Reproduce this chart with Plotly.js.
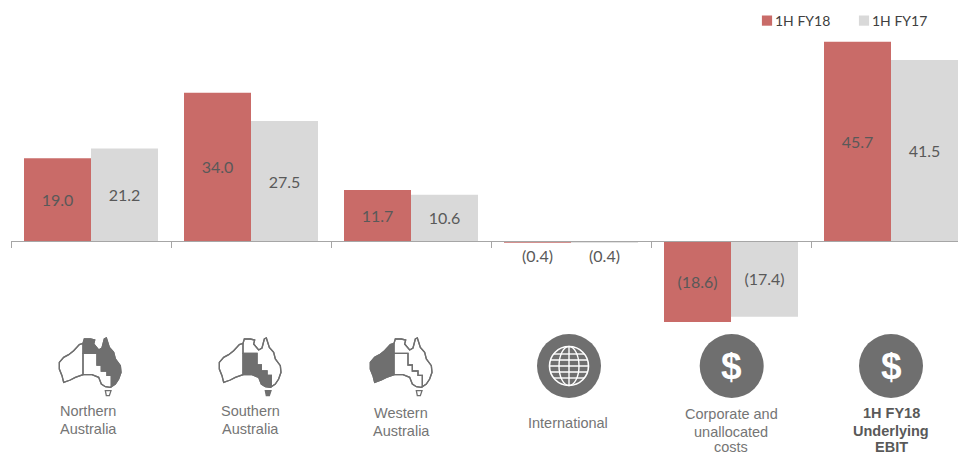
<!DOCTYPE html>
<html><head><meta charset="utf-8">
<script src="https://cdn.plot.ly/plotly-3.0.1.min.js"></script>
<style>html,body{margin:0;padding:0;background:#fff;overflow:hidden}</style>
</head><body><div id="chart" style="width:958px;height:456px"></div>
<script>
const categories = ['Northern Australia','Southern Australia','Western Australia','International','Corporate and unallocated costs','1H FY18 Underlying EBIT'];
const fy18 = [19.0, 34.0, 11.7, -0.4, -18.6, 45.7];
const fy17 = [21.2, 27.5, 10.6, -0.4, -17.4, 41.5];
const labelPositions = ['inside','inside','inside','outside','inside','inside'];
const seriesNames = ['1H FY18','1H FY17'];
const RED = '#C96B68', GREY = '#D9D9D9', ICON = '#6F6F6F';

const W = 958, H = 456, LEFT = 11, ZERO = 241, PX_PER_UNIT = 4.36;
const px = x => (x - LEFT) / (W - LEFT);
const py = y => 1 - y / H;

const labelLines = [['Northern','Australia'],['Southern','Australia'],['Western','Australia'],['International'],['Corporate and','unallocated','costs'],['<b>1H FY18</b>','<b>Underlying</b>','<b>EBIT</b>']];
const labelX = [88, 250, 401, 568, 731, 891];
const labelLineY = [[411,429],[411,429],[413,431],[423],[414,431.5,447],[413,431,447]];

// Australia icon, traced at 3x: local coordinates / 3 = pixels from the icon's corner
const outline = [[22,85],[35,70],[50,62],[65,50],[82,32],[93,28],[97,15],[115,15],[128,18],[125,30],[140,48],[150,42],[157,15],[163,12],[172,40],[185,55],[190,75],[205,95],[207,115],[200,135],[190,150],[175,160],[160,158],[148,150],[140,130],[120,122],[93,122],[70,130],[55,138],[35,145],[30,125],[22,105]];
const tas = [[160,170],[177,170],[172,185],[163,185]];
const north = [[93,28],[97,15],[115,15],[128,18],[125,30],[140,48],[150,42],[157,15],[163,12],[172,40],[185,55],[190,75],[205,95],[207,115],[200,135],[190,150],[178,158],[178,124],[165,124],[165,111],[148,111],[148,93],[135,93],[135,58],[93,58]];
const south = [[93,58],[135,58],[135,93],[148,93],[148,111],[165,111],[165,124],[178,124],[178,158],[175,160],[160,158],[148,150],[140,130],[120,122],[93,122]];
const west = [[22,85],[35,70],[50,62],[65,50],[82,32],[93,28],[93,122],[70,130],[55,138],[35,145],[30,125],[22,105]];
const mapX = [52, 212, 363], mapY = 334;

function path(pts, dx, dy) {
  return 'M' + pts.map(p => px(p[0] / 3 + dx) + ',' + py(p[1] / 3 + dy)).join('L') + 'Z';
}
function pshape(pts, dx, dy, fill) {
  return {type:'path', xref:'paper', yref:'paper', path:path(pts, dx, dy), fillcolor:fill, line:{color:ICON, width:1.3}, layer:'below'};
}
const shapes = [];
[north, south, west].forEach((region, i) => {
  const dx = mapX[i];
  shapes.push(pshape(outline, dx, mapY, '#FFFFFF'));
  shapes.push(pshape(tas, dx, mapY, i === 1 ? ICON : '#FFFFFF'));
  [north, south, west].forEach(r => shapes.push(pshape(r, dx, mapY, r === region ? ICON : 'rgba(0,0,0,0)')));
});
function ell(cx, cy, rx, ry, fill, line, w) {
  return {type:'circle', xref:'paper', yref:'paper', x0:px(cx-rx), x1:px(cx+rx), y0:py(cy+ry), y1:py(cy-ry),
    fillcolor:fill, line:{color:line, width:w}, layer:'below'};
}
function seg(x0, y0, x1, y1) {
  return {type:'line', xref:'paper', yref:'paper', x0:px(x0), x1:px(x1), y0:py(y0), y1:py(y1), line:{color:'#FFFFFF', width:1.4}, layer:'below'};
}
const CY = 366, R = 32;
[569, 731.7, 891].forEach(cx => shapes.push(ell(cx, CY, R, R, ICON, ICON, 0)));
shapes.push(ell(569, CY, 19.5, 19.5, 'rgba(0,0,0,0)', '#FFFFFF', 1.6));
shapes.push(ell(569, CY, 10, 19.5, 'rgba(0,0,0,0)', '#FFFFFF', 1.4));
shapes.push(seg(569, CY-19.5, 569, CY+19.5));
[[-12,15.5],[-6,18.5],[0,19.5],[6,18.5],[12,15.5]].forEach(o => shapes.push(seg(569-o[1], CY+o[0], 569+o[1], CY+o[0])));

const annotations = [];
categories.forEach((c, i) => labelLines[i].forEach((line, j) => annotations.push({
  xref:'paper', yref:'paper', x:px(labelX[i]), y:py(labelLineY[i][j]), xanchor:'center', yanchor:'middle',
  text:line, showarrow:false, align:'center',
  font:{family:'Liberation Sans, Arial, sans-serif', size:14.5, color: i === 5 ? '#595959' : '#757575'}
})));
[731.7, 891].forEach(cx => annotations.push({
  xref:'paper', yref:'paper', x:px(cx), y:py(CY), xanchor:'center', yanchor:'middle', text:'<b>$</b>', showarrow:false,
  font:{family:'Liberation Sans, Arial, sans-serif', size:37, color:'#FFFFFF'}
}));

const fmt = v => v < 0 ? '(' + Math.abs(v).toFixed(1) + ')' : v.toFixed(1);
const textFont = {family:'Lato, sans-serif', size:16, color:'#595959'};
function bar(name, y, color) {
  return {type:'bar', name, x:categories, y, marker:{color, line:{width:0}},
    text:y.map(fmt), textinfo:'text', textposition:labelPositions, insidetextanchor:'middle',
    textangle:0, constraintext:'none', cliponaxis:false,
    insidetextfont:textFont, outsidetextfont:textFont, textfont:textFont, hoverinfo:'x+y+name'};
}
const layout = {
  width:W, height:H, margin:{l:LEFT, r:0, t:0, b:0, pad:0}, paper_bgcolor:'#fff', plot_bgcolor:'rgba(0,0,0,0)',
  barmode:'group', bargap:0.1625, bargroupgap:0,
  xaxis:{type:'category', categoryorder:'array', categoryarray:categories, range:[-0.5, -0.5 + (W-LEFT)/160], tickson:'boundaries',
    ticks:'outside', ticklen:6, tickwidth:1, tickcolor:'#A6A6A6', showticklabels:false, showgrid:false, zeroline:false,
    showline:true, linecolor:'#A6A6A6', linewidth:1, anchor:'free', position:py(ZERO), fixedrange:true},
  yaxis:{range:[(ZERO-H)/PX_PER_UNIT, ZERO/PX_PER_UNIT], visible:false, showgrid:false, zeroline:false, domain:[0,1], fixedrange:true},
  showlegend:true,
  legend:{orientation:'h', xref:'paper', yref:'paper', x:px(735), y:py(5), xanchor:'left', yanchor:'top', entrywidth:52, entrywidthmode:'pixels',
    font:{family:'Lato, sans-serif', size:14, color:'#404040'}, bgcolor:'rgba(0,0,0,0)', traceorder:'normal'},
  shapes, annotations
};
Plotly.newPlot('chart', [bar(seriesNames[0], fy18, RED), bar(seriesNames[1], fy17, GREY)], layout, {displayModeBar:false, staticPlot:true}).then(() => {
  // tighten the legend swatch against its text, as in the reference
  document.querySelectorAll('#chart .legend .legendpoints').forEach(g => {
    g.setAttribute('transform', 'translate(15,0) scale(0.85)');
  });
});
</script></body></html>
